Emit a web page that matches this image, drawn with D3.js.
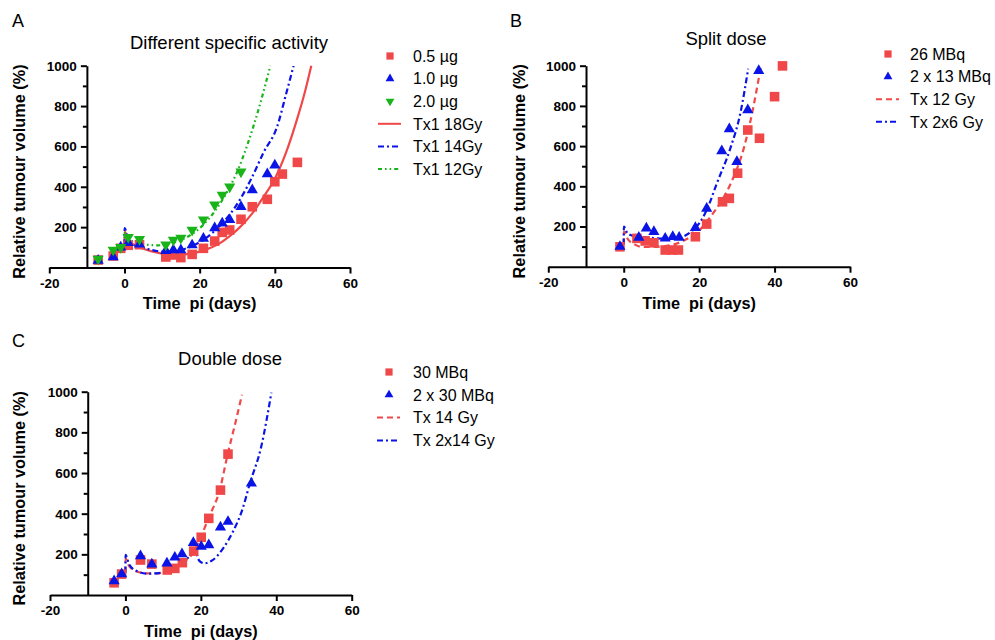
<!DOCTYPE html>
<html><head><meta charset="utf-8">
<script src="https://cdn.jsdelivr.net/npm/d3@7"></script>
<style>body{margin:0;background:#fff}svg{display:block}</style>
</head><body>
<svg id="c" width="995" height="640"></svg>
<script>
// ---------- data ----------
const xTicks = [-20, 0, 20, 40, 60];
const yTicks = [200, 400, 600, 800, 1000];
const yMinor = [100, 300, 500, 700, 900];

// Panel A: Different specific activity
const a05 = [[-7,37],[-3,57],[-1,95],[1,110],[4,113],[11,52],[13,62],[15,49],[18,65],[21,95],[24,131],[26,174],[28,186],[31,239],[34,301],[38,338],[40,425],[42,463],[46,521]];
const a10 = [[-7,35],[-3,52],[-1,100],[1,122],[4,115],[11,83],[13,87],[15,87],[18,111],[21,144],[24,196],[26,219],[28,237],[31,301],[34,384],[38,463],[40,507]];
const a20 = [[-7,42],[-3,87],[-1,100],[1,150],[4,140],[11,113],[13,136],[15,146],[18,186],[21,237],[24,311],[26,360],[28,400],[31,474]];
const aFit18 = [[0,110],[0.05,178],[1,135],[2,118],[4,100],[7,81],[10,69],[13,63],[16,65],[19,74],[22,91],[25,116],[28,155],[31,205],[34,268],[37,350],[40,440],[43,570],[46,740],[48,870],[49.7,1000]];
const aFit14 = [[0,110],[0.05,195],[1,140],[2,120],[4,104],[7,88],[10,79],[13,80],[16,92],[19,115],[22,150],[25,200],[28,262],[31,345],[34,450],[37,570],[40.6,697],[43,860],[45,1000]];
const aFit12 = [[0,110],[0.05,172],[1,142],[3,126],[6,113],[9,110],[12,118],[15,136],[18,166],[21,212],[24,278],[27,365],[30,475],[33,625],[36,805],[38.8,1000]];

// Panel B: Split dose
const b26 = [[-1,99],[3.5,141],[5.7,128],[8,119],[11,83],[12.8,83],[14.5,83],[19,149],[22,212],[26.2,323],[28,340],[30.2,465],[32.9,680],[36,639],[40,846],[42.1,999]];
const b2x13 = [[-1,100],[4,145],[6,191],[8,174],[11,141],[13,149],[14.7,145],[19,194],[22,290],[26,576],[28,685],[30,522],[32.9,780],[35.8,975]];
const bFit12 = [[0,110],[0.05,175],[1,140],[3,110],[5,98],[8,98],[11,103],[14,115],[17,140],[20,180],[23,248],[26,330],[29,440],[32,600],[34,760],[36.4,1000]];
const bFit2x6 = [[0,110],[0.05,200],[1,166],[3,151],[6,146],[9,141],[12,139],[15,146],[18,176],[20,215],[22,282],[24.7,415],[28.2,585],[31,770],[33,985]];

// Panel C: Double dose
const c30 = [[-3,60],[-1,103],[4,172],[7,152],[11.1,123],[13.1,131],[15.1,159],[18.1,216],[20.1,284],[22.1,377],[25.2,516],[27.2,693]];
const c2x30 = [[-3,69],[-1,103],[4,192],[7,151],[11,156],[13.1,185],[15,202],[18,257],[20.1,238],[22.1,246],[25.2,333],[27.2,361],[33.4,549]];
const cFit14 = [[0,110],[0.05,178],[1,142],[3,116],[6,106],[9,108],[12,124],[15,155],[18,210],[20,285],[22,377],[25,516],[27.2,700],[29,835],[30.9,985]];
const cFit2x14 = [[0,110],[0.05,197],[1,150],[3,118],[6,105],[9,108],[12,125],[15,156],[17,190],[18.5,214],[19.6,168],[21,156],[23,170],[26,232],[28.5,311],[31,420],[33,549],[36,729],[38.7,995]];

// ---------- styles ----------
const RED = "#f04848", BLUE = "#0a14e6", GREEN = "#19b419";
const FONT = "'Liberation Sans', Arial, Helvetica, sans-serif";
const DASH = { solid: null, dash: "6,4", dashdot: "6,3,2,3", dashdotdot: "4,3,1.6,3,1.6,3" };

const svg = d3.select("#c");

const panels = [
  { letter: "A", lx: 12, ly: 27, title: "Different specific activity", tx: 229, ty: 49,
    xr: [49.3, 350], yr: [267.5, 65.7], ylabX: 19, xlabY: 309,
    pts: [ {d: a05, c: RED, s: "sq"}, {d: a10, c: BLUE, s: "up"}, {d: a20, c: GREEN, s: "down"} ],
    fits: [ {d: aFit18, c: RED, k: "solid"}, {d: aFit14, c: BLUE, k: "dashdot"}, {d: aFit12, c: GREEN, k: "dashdotdot"} ],
    leg: { x: 390, tx: 413, y0: 56, dy: 22.6,
      items: [ {t:"0.5 \u00b5g", c:RED, s:"sq"}, {t:"1.0 \u00b5g", c:BLUE, s:"up"}, {t:"2.0 \u00b5g", c:GREEN, s:"down"},
               {t:"Tx1 18Gy", c:RED, k:"solid"}, {t:"Tx1 14Gy", c:BLUE, k:"dashdot"}, {t:"Tx1 12Gy", c:GREEN, k:"dashdotdot"} ] } },
  { letter: "B", lx: 510, ly: 27, title: "Split dose", tx: 726, ty: 45,
    xr: [548.3, 850], yr: [266.7, 65.7], ylabX: 519, xlabY: 309,
    pts: [ {d: b26, c: RED, s: "sq"}, {d: b2x13, c: BLUE, s: "up"} ],
    fits: [ {d: bFit12, c: RED, k: "dash"}, {d: bFit2x6, c: BLUE, k: "dashdot"} ],
    leg: { x: 888, tx: 910, y0: 54, dy: 22.6,
      items: [ {t:"26 MBq", c:RED, s:"sq"}, {t:"2 x 13 MBq", c:BLUE, s:"up"},
               {t:"Tx 12 Gy", c:RED, k:"dash"}, {t:"Tx 2x6 Gy", c:BLUE, k:"dashdot"} ] } },
  { letter: "C", lx: 12, ly: 347, title: "Double dose", tx: 230, ty: 365,
    xr: [50, 351.7], yr: [595, 391.7], ylabX: 19, xlabY: 637,
    pts: [ {d: c30, c: RED, s: "sq"}, {d: c2x30, c: BLUE, s: "up"} ],
    fits: [ {d: cFit14, c: RED, k: "dash"}, {d: cFit2x14, c: BLUE, k: "dashdot"} ],
    leg: { x: 389, tx: 413, y0: 372, dy: 22.8,
      items: [ {t:"30 MBq", c:RED, s:"sq"}, {t:"2 x 30 MBq", c:BLUE, s:"up"},
               {t:"Tx 14 Gy", c:RED, k:"dash"}, {t:"Tx 2x14 Gy", c:BLUE, k:"dashdot"} ] } }
];

function symPath(s, big) {
  if (s === "sq") return d3.symbol(d3.symbolSquare, big ? 92 : 52)();
  return d3.symbol(d3.symbolTriangle, big ? 54 : 34)();
}

panels.forEach(p => {
  const x = d3.scaleLinear().domain([-20, 60]).range(p.xr);
  const y = d3.scaleLinear().domain([0, 1000]).range(p.yr);
  const g = svg.append("g");

  // panel letter and title
  g.append("text").attr("x", p.lx).attr("y", p.ly).attr("font-family", FONT).attr("font-size", 18).text(p.letter);
  g.append("text").attr("x", p.tx).attr("y", p.ty).attr("text-anchor", "middle").attr("font-family", FONT).attr("font-size", 18.5).text(p.title);

  // x axis
  const xa = g.append("g").attr("transform", `translate(0,${y(0)})`)
    .call(d3.axisBottom(x).tickValues(xTicks).tickSize(6).tickSizeOuter(0).tickPadding(3).tickFormat(d => String(d)));
  // y axis at x = -10
  const ya = g.append("g").attr("transform", `translate(${x(-10)},0)`)
    .call(d3.axisLeft(y).tickValues(yTicks).tickSize(6).tickSizeOuter(0).tickPadding(4).tickFormat(d => String(d)));
  g.append("g").attr("transform", `translate(${x(-10)},0)`)
    .call(d3.axisLeft(y).tickValues(yMinor).tickSize(4).tickFormat(""))
    .call(a => a.select(".domain").remove());
  g.selectAll(".domain, .tick line").attr("stroke", "#000").attr("stroke-width", 2);
  [xa, ya].forEach(a => a.selectAll("text").attr("font-family", FONT).attr("font-size", 13.5).attr("font-weight", "bold").attr("fill", "#000"));
  xa.selectAll("text").attr("dy", "0.85em");

  // axis labels
  g.append("text").attr("transform", `translate(${p.ylabX},${(p.yr[0] + p.yr[1]) / 2 + 5}) rotate(-90)`)
    .attr("text-anchor", "middle").attr("font-family", FONT).attr("font-size", 16.3).attr("font-weight", "bold")
    .attr("dy", "0.35em").text("Relative tumour volume (%)");
  g.append("text").attr("x", x(20)).attr("y", p.xlabY).attr("text-anchor", "middle").style("white-space", "pre")
    .attr("font-family", FONT).attr("font-size", 16.3).attr("font-weight", "bold").text("Time  pi (days)");

  // fitted curves
  const line = d3.line().x(d => x(d[0])).y(d => y(d[1])).curve(d3.curveMonotoneX);
  p.fits.forEach(f => {
    g.append("path").datum(f.d).attr("d", line).attr("fill", "none").attr("stroke", f.c)
      .attr("stroke-width", 2.2).attr("stroke-dasharray", DASH[f.k]);
  });

  // data points
  p.pts.forEach(s => {
    g.selectAll(null).data(s.d).enter().append("path")
      .attr("d", symPath(s.s, true))
      .attr("transform", d => `translate(${x(d[0])},${y(d[1])})${s.s === "down" ? " rotate(180)" : ""}`)
      .attr("fill", s.c);
  });

  // legend
  const L = p.leg;
  L.items.forEach((it, i) => {
    const yy = L.y0 + i * L.dy;
    if (it.s) {
      g.append("path").attr("d", symPath(it.s, false))
        .attr("transform", `translate(${L.x},${yy})${it.s === "down" ? " rotate(180)" : ""}`).attr("fill", it.c);
    } else {
      g.append("line").attr("x1", L.x - 12).attr("x2", L.x + 11).attr("y1", yy).attr("y2", yy)
        .attr("stroke", it.c).attr("stroke-width", 2).attr("stroke-dasharray", DASH[it.k]);
    }
    g.append("text").attr("x", L.tx).attr("y", yy).attr("dy", "0.36em").attr("font-family", FONT)
      .attr("font-size", 16).text(it.t);
  });
});
</script>
</body></html>
